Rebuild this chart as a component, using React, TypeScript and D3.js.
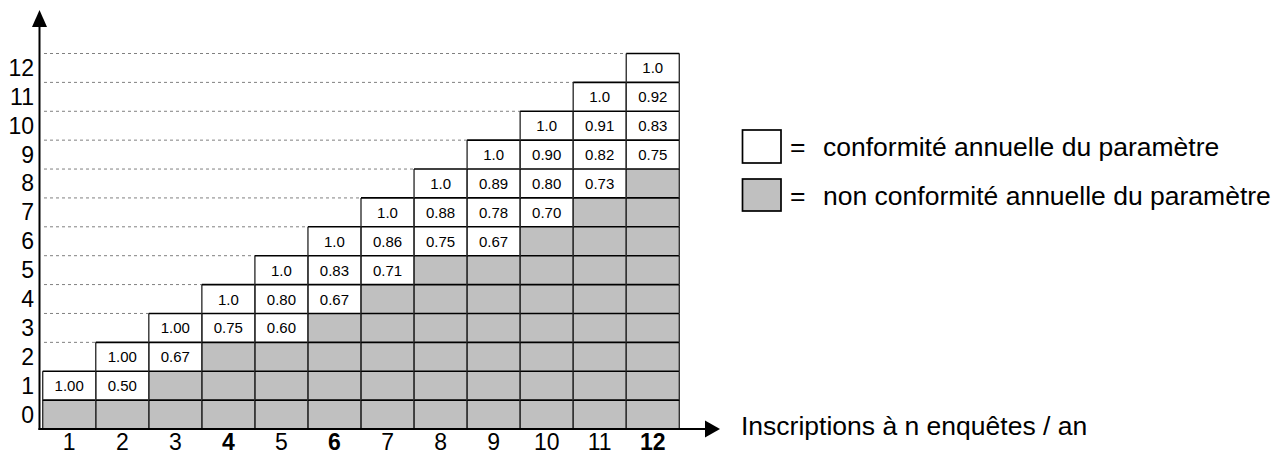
import React from 'react';
import * as d3 from 'd3';

// n = number of surveys per year (columns), rows = number of compliant surveys
const enquetes = [1, 2, 3, 4, 5, 6, 7, 8, 9, 10, 11, 12];
const rows = [0, 1, 2, 3, 4, 5, 6, 7, 8, 9, 10, 11, 12];
const boldTicks = [4, 6, 12];

// labels of the white (compliant) cells of each column, bottom to top
const ratioLabels: string[][] = [
    ['1.00'],
    ['0.50', '1.00'],
    ['0.67', '1.00'],
    ['0.75', '1.0'],
    ['0.60', '0.80', '1.0'],
    ['0.67', '0.83', '1.0'],
    ['0.71', '0.86', '1.0'],
    ['0.75', '0.88', '1.0'],
    ['0.67', '0.78', '0.89', '1.0'],
    ['0.70', '0.80', '0.90', '1.0'],
    ['0.73', '0.82', '0.91', '1.0'],
    ['0.75', '0.83', '0.92', '1.0'],
];

const legendLabels = ['conformité annuelle du paramètre', 'non conformité annuelle du paramètre'];
const xTitle = 'Inscriptions à n enquêtes / an';

const W = 1274;
const H = 456;
const GRAY = '#c0c0c0';
const FONT = '"Liberation Sans", Arial, sans-serif';

const x = d3.scaleBand<number>().domain(enquetes).range([42.7, 679.3]);
const y = d3.scaleBand<number>().domain(rows).range([429, 53.5]);
const axisX = 39.5;
const axisY = 429;

const App: React.FC = () => {
    const bw = x.bandwidth();
    const bh = y.bandwidth();

    const cells: { n: number; r: number; white: boolean; label?: string }[] = [];
    enquetes.forEach((n, i) => {
        const labels = ratioLabels[i];
        const firstWhite = n - labels.length + 1;
        for (let r = 0; r <= n; r++) {
            const white = r >= firstWhite;
            cells.push({ n, r, white, label: white ? labels[r - firstWhite] : undefined });
        }
    });

    // dashed guide lines left of the staircase (top of row r runs to column r)
    const dashed = rows.filter(r => r >= 2).map(r => ({ yy: y(r)!, x2: x(r)! }));

    return (
        <svg width={W} height={H} style={{ position: 'absolute', left: 0, top: 0, background: '#fff' }} fontFamily={FONT}>
            {dashed.map((d, i) => (
                <line key={'d' + i} x1={44} x2={d.x2} y1={d.yy} y2={d.yy}
                    stroke="#808080" strokeWidth={1} strokeDasharray="3,3" />
            ))}
            {cells.map((c, i) => (
                <rect key={'c' + i} x={x(c.n)!} y={y(c.r)!} width={bw} height={bh} fill={c.white ? '#fff' : GRAY} />
            ))}
            {cells.map((c, i) => (
                <g key={'l' + i}>
                    <line x1={x(c.n)!} x2={x(c.n)!} y1={y(c.r)!} y2={y(c.r)! + bh} stroke="#333" strokeWidth={1.4} />
                    <line x1={x(c.n)! + bw} x2={x(c.n)! + bw} y1={y(c.r)!} y2={y(c.r)! + bh} stroke="#333" strokeWidth={1.4} />
                    <line x1={x(c.n)!} x2={x(c.n)! + bw} y1={y(c.r)!} y2={y(c.r)!} stroke="#000" strokeWidth={1.6} />
                </g>
            ))}
            {cells.filter(c => c.label).map((c, i) => (
                <text key={'t' + i} x={x(c.n)! + bw / 2} y={y(c.r)! + bh / 2} textAnchor="middle"
                    dominantBaseline="central" fontSize={15} fill="#000">{c.label}</text>
            ))}

            {/* axes */}
            <line x1={axisX} x2={axisX} y1={axisY + 1} y2={26} stroke="#000" strokeWidth={2} />
            <polygon points={`${axisX},10 ${axisX - 7.5},27 ${axisX + 7.5},27`} fill="#000" />
            <line x1={axisX - 1} x2={706} y1={axisY} y2={axisY} stroke="#000" strokeWidth={2} />
            <polygon points={`720,${axisY} 705,${axisY - 8.5} 705,${axisY + 8.5}`} fill="#000" />

            {rows.map(r => (
                <text key={'y' + r} x={34} y={y(r)! + bh / 2} textAnchor="end" dominantBaseline="central"
                    fontSize={23} fill="#000">{r}</text>
            ))}
            {enquetes.map(n => (
                <text key={'x' + n} x={x(n)! + bw / 2} y={450} textAnchor="middle" fontSize={23}
                    fontWeight={boldTicks.includes(n) ? 'bold' : 'normal'} fill="#000">{n}</text>
            ))}
            <text x={741} y={435} fontSize={26.5} fill="#000">{xTitle}</text>

            {/* legend */}
            {legendLabels.map((lab, i) => (
                <g key={'lg' + i} transform={`translate(0, ${i === 0 ? 0 : 49})`}>
                    <rect x={742.5} y={130} width={38.5} height={i === 0 ? 33 : 32} fill={i === 0 ? '#fff' : GRAY}
                        stroke="#000" strokeWidth={1.7} />
                    <text x={790} y={156} fontSize={26.5} fill="#000">=</text>
                    <text x={823} y={156} fontSize={26.5} fill="#000">{lab}</text>
                </g>
            ))}
        </svg>
    );
};

export default App;
